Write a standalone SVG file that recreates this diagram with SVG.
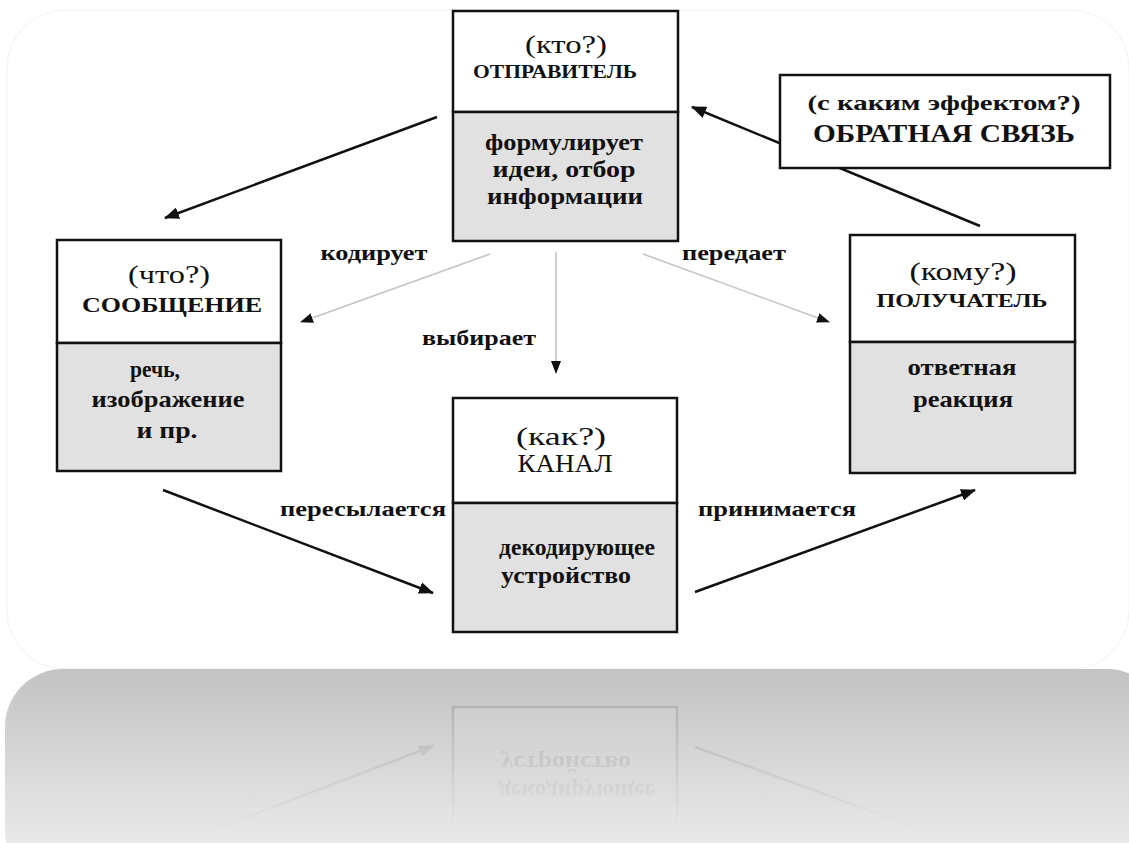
<svg xmlns="http://www.w3.org/2000/svg" xmlns:xlink="http://www.w3.org/1999/xlink" width="1129" height="843" viewBox="0 0 1129 843" font-family="Liberation Serif, serif">
<style>
  .box{fill:#ffffff;stroke:#111;stroke-width:2.5}
  .low{fill:#e1e1e1;stroke:#111;stroke-width:2.5}
  .t{fill:#111;text-anchor:middle}
  .q{font-size:25px}
  .b{font-weight:bold}
  .lbl{font-weight:bold;font-size:22px;fill:#111;text-anchor:middle}
  .solid{stroke:#111;stroke-width:2.5;fill:none}
  .light{stroke:#c4c4c4;stroke-width:1.6;fill:none}
</style>
<defs>
  <marker id="ah" markerUnits="userSpaceOnUse" markerWidth="16" markerHeight="12" refX="14" refY="6" orient="auto">
    <path d="M0,0 L15,6 L0,12 Z" fill="#111"/>
  </marker>
  <marker id="ahs" markerUnits="userSpaceOnUse" markerWidth="14" markerHeight="12" refX="12" refY="6" orient="auto">
    <path d="M0,1 L13,6 L0,11 Z" fill="#111"/>
  </marker>
  <linearGradient id="gray" x1="0" y1="0" x2="0" y2="1">
    <stop offset="0" stop-color="#c3c3c3"/>
    <stop offset="1" stop-color="#f3f3f3"/>
  </linearGradient>
  <linearGradient id="fade" gradientUnits="userSpaceOnUse" x1="0" y1="669" x2="0" y2="835">
    <stop offset="0" stop-color="#fff" stop-opacity="1"/>
    <stop offset="1" stop-color="#fff" stop-opacity="0"/>
  </linearGradient>
  <mask id="fm" maskUnits="userSpaceOnUse" x="0" y="669" width="1129" height="174">
    <rect x="0" y="669" width="1129" height="174" fill="url(#fade)"/>
  </mask>
</defs>

<rect width="1129" height="843" fill="#ffffff"/>
<rect x="7" y="10" width="1122" height="659" rx="58" fill="#ffffff" stroke="#f2f2f2" stroke-width="1"/>
<rect x="5" y="669" width="1160" height="220" rx="58" fill="url(#gray)"/>

<g id="connectors">
  <line class="solid" x1="437" y1="117" x2="165" y2="218" marker-end="url(#ah)"/>
  <line class="solid" x1="980" y1="226" x2="692" y2="107" marker-end="url(#ah)"/>
  <line class="light" x1="490" y1="254" x2="301" y2="322" marker-end="url(#ahs)"/>
  <line class="light" x1="556" y1="252" x2="556" y2="373" marker-end="url(#ahs)"/>
  <line class="light" x1="643" y1="254" x2="829" y2="322" marker-end="url(#ahs)"/>
  <g id="bottomArrows">
    <line class="solid" x1="163" y1="490" x2="433" y2="593" marker-end="url(#ah)"/>
    <line class="solid" x1="695" y1="592" x2="975" y2="490" marker-end="url(#ah)"/>
  </g>
  <text class="lbl" x="374" y="260" textLength="107" lengthAdjust="spacingAndGlyphs">кодирует</text>
  <text class="lbl" x="734" y="260" textLength="104" lengthAdjust="spacingAndGlyphs">передает</text>
  <text class="lbl" x="479" y="345" textLength="114" lengthAdjust="spacingAndGlyphs">выбирает</text>
  <text class="lbl" x="363" y="516" textLength="166" lengthAdjust="spacingAndGlyphs">пересылается</text>
  <text class="lbl" x="777" y="516" textLength="158" lengthAdjust="spacingAndGlyphs">принимается</text>
</g>

<g id="sender">
  <rect class="box" x="453" y="11" width="225" height="101"/>
  <rect class="low" x="453" y="112" width="225" height="129"/>
  <text class="t q" x="566" y="53" textLength="82" lengthAdjust="spacingAndGlyphs">(кто?)</text>
  <text class="t b" x="555" y="78" font-size="19" textLength="164" lengthAdjust="spacingAndGlyphs">ОТПРАВИТЕЛЬ</text>
  <text class="t b" x="564" y="150" font-size="24" textLength="158" lengthAdjust="spacingAndGlyphs">формулирует</text>
  <text class="t b" x="564" y="177" font-size="24" textLength="143" lengthAdjust="spacingAndGlyphs">идеи, отбор</text>
  <text class="t b" x="565" y="204" font-size="24" textLength="156" lengthAdjust="spacingAndGlyphs">информации</text>
</g>

<g id="feedback">
  <rect class="box" x="780" y="75" width="330" height="93"/>
  <text class="t b" x="944" y="110" font-size="22" textLength="273" lengthAdjust="spacingAndGlyphs">(с каким эффектом?)</text>
  <text class="t" x="944" y="142" font-size="25" font-weight="600" textLength="262" lengthAdjust="spacingAndGlyphs">ОБРАТНАЯ СВЯЗЬ</text>
</g>

<g id="message">
  <rect class="box" x="57" y="240" width="224" height="103"/>
  <rect class="low" x="57" y="343" width="224" height="128"/>
  <text class="t q" x="169" y="283" textLength="82" lengthAdjust="spacingAndGlyphs">(что?)</text>
  <text class="t" x="172" y="312" font-size="22" font-weight="600" textLength="180" lengthAdjust="spacingAndGlyphs">СООБЩЕНИЕ</text>
  <text class="t b" x="155" y="377" font-size="23" textLength="50" lengthAdjust="spacingAndGlyphs">речь,</text>
  <text class="t b" x="168" y="407" font-size="23" textLength="153" lengthAdjust="spacingAndGlyphs">изображение</text>
  <text class="t b" x="167" y="438" font-size="23" textLength="61" lengthAdjust="spacingAndGlyphs">и пр.</text>
</g>

<g id="receiver">
  <rect class="box" x="850" y="235" width="225" height="107"/>
  <rect class="low" x="850" y="342" width="225" height="131"/>
  <text class="t q" x="963" y="280" textLength="107" lengthAdjust="spacingAndGlyphs">(кому?)</text>
  <text class="t b" x="962" y="307" font-size="19" textLength="171" lengthAdjust="spacingAndGlyphs">ПОЛУЧАТЕЛЬ</text>
  <text class="t b" x="962" y="375" font-size="23" textLength="109" lengthAdjust="spacingAndGlyphs">ответная</text>
  <text class="t b" x="963" y="407" font-size="23" textLength="100" lengthAdjust="spacingAndGlyphs">реакция</text>
</g>

<g id="channel">
  <rect class="box" x="453" y="398" width="224" height="105"/>
  <rect class="low" x="453" y="503" width="224" height="129"/>
  <text class="t q" x="561" y="445" textLength="90" lengthAdjust="spacingAndGlyphs">(как?)</text>
  <text class="t" x="565" y="472" font-size="25" textLength="95" lengthAdjust="spacingAndGlyphs">КАНАЛ</text>
  <text class="t b" x="577" y="555" font-size="23" textLength="156" lengthAdjust="spacingAndGlyphs">декодирующее</text>
  <text class="t b" x="566" y="583" font-size="23" textLength="130" lengthAdjust="spacingAndGlyphs">устройство</text>
</g>

<g id="reflection" mask="url(#fm)" opacity="0.16">
  <g transform="matrix(1,0,0,-1,0,1339)">
    <use xlink:href="#channel"/>
    <use xlink:href="#bottomArrows"/>
  </g>
</g>
</svg>
